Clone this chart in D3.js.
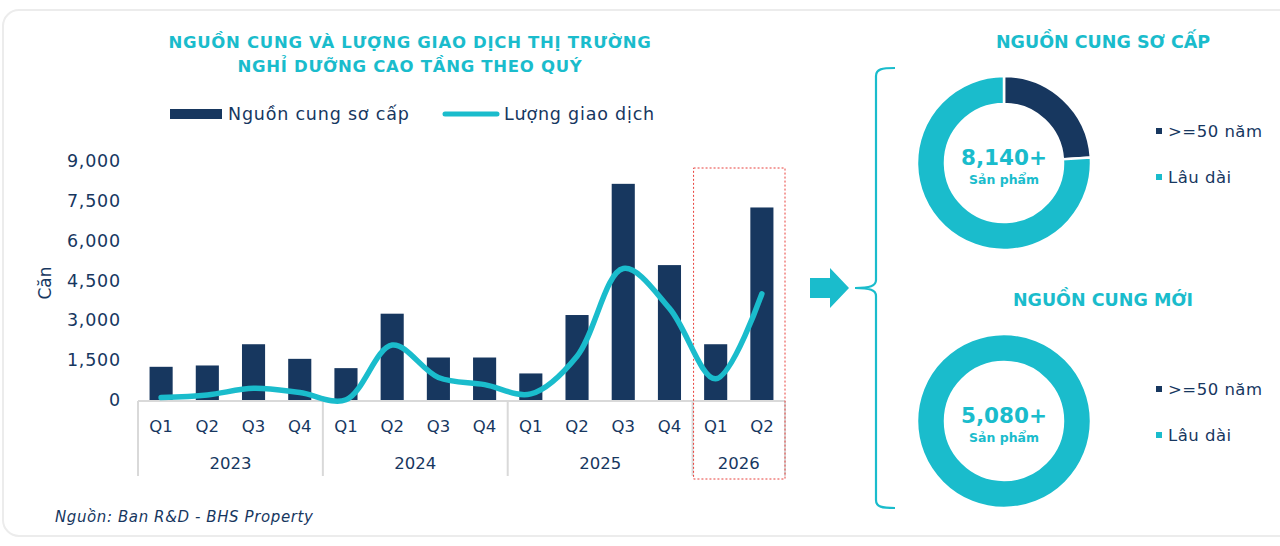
<!DOCTYPE html>
<html>
<head>
<meta charset="utf-8">
<script src="https://cdn.jsdelivr.net/npm/d3@7"></script>
<style>
  body { margin: 0; background: #fff; }
  svg { display: block; font-family: "DejaVu Sans", sans-serif; }
</style>
</head>
<body>
<svg id="chart" width="1280" height="546"></svg>
<script>
// data
const years = ["2023", "2024", "2025", "2026"];
const quarterCount = [4, 4, 4, 2];
const quarters = ["Q1", "Q2", "Q3", "Q4", "Q1", "Q2", "Q3", "Q4", "Q1", "Q2", "Q3", "Q4", "Q1", "Q2"];
const supply = [1250, 1300, 2100, 1550, 1200, 3250, 1600, 1600, 1000, 3200, 8140, 5080, 2100, 7250];
const sales = [90, 190, 440, 280, 10, 2070, 850, 580, 230, 1650, 4950, 3450, 800, 4000];
const yTicks = [0, 1500, 3000, 4500, 6000, 7500, 9000];

const donutLabels = [">=50 năm", "Lâu dài"];
const primaryShare = [24, 76];
const newShare = [0, 100];

const navy = "#17375f";
const cyan = "#1abccc";

const svg = d3.select("#chart");

// card
svg.append("rect")
  .attr("x", 3).attr("y", 10).attr("width", 1300).attr("height", 526)
  .attr("rx", 16)
  .attr("fill", "#fff").attr("stroke", "#ececec").attr("stroke-width", 2);

// titles
const title = svg.append("text")
  .attr("text-anchor", "middle")
  .attr("fill", cyan).attr("font-weight", 700).attr("font-size", 16.5)
  .attr("letter-spacing", 0.7);
title.append("tspan").attr("x", 410).attr("y", 48).text("NGUỒN CUNG VÀ LƯỢNG GIAO DỊCH THỊ TRƯỜNG");
title.append("tspan").attr("x", 410).attr("y", 72).text("NGHỈ DƯỠNG CAO TẦNG THEO QUÝ");

// legend
svg.append("rect").attr("x", 170).attr("y", 109).attr("width", 52).attr("height", 10).attr("fill", navy);
svg.append("text").attr("x", 228).attr("y", 120).attr("font-size", 17.5).attr("letter-spacing", 0.8)
  .attr("fill", navy).text("Nguồn cung sơ cấp");
svg.append("line").attr("x1", 445).attr("x2", 497).attr("y1", 114).attr("y2", 114)
  .attr("stroke", cyan).attr("stroke-width", 5).attr("stroke-linecap", "round");
svg.append("text").attr("x", 504).attr("y", 120).attr("font-size", 17.5).attr("letter-spacing", 0.8)
  .attr("fill", navy).text("Lượng giao dịch");

// scales
const keys = quarters.map((q, i) => i);
const x = d3.scaleBand().domain(keys).range([138, 785]).paddingInner(0.5).paddingOuter(0.25);
const y = d3.scaleLinear().domain([0, 9000]).range([400, 161]);

// y axis
const yAxis = svg.append("g")
  .attr("transform", "translate(121,0)")
  .call(d3.axisLeft(y).tickValues(yTicks).tickSize(0).tickPadding(0).tickFormat(d3.format(",")));
yAxis.select(".domain").remove();
yAxis.selectAll("text").attr("font-size", 17.5).attr("letter-spacing", 0.8).attr("fill", navy)
  .attr("font-family", "DejaVu Sans, sans-serif");

svg.append("text")
  .attr("transform", "translate(51,283) rotate(-90)")
  .attr("text-anchor", "middle").attr("font-size", 17).attr("fill", navy)
  .text("Căn");

// bars
svg.append("g").selectAll("rect").data(supply).join("rect")
  .attr("x", (d, i) => x(i)).attr("width", x.bandwidth())
  .attr("y", d => y(d)).attr("height", d => y(0) - y(d))
  .attr("fill", navy);

// x axis line
svg.append("line").attr("x1", 138).attr("x2", 785).attr("y1", 401).attr("y2", 401)
  .attr("stroke", "#d9d9d9").attr("stroke-width", 2);

// quarter labels
svg.append("g").selectAll("text").data(quarters).join("text")
  .attr("x", (d, i) => x(i) + x.bandwidth() / 2).attr("y", 432)
  .attr("text-anchor", "middle").attr("font-size", 16.5).attr("fill", navy)
  .text(d => d);

// year groups
const step = x.step();
let start = 0;
const groups = years.map((yr, i) => {
  const g = { year: yr, from: start, to: start + quarterCount[i] };
  start += quarterCount[i];
  return g;
});
const x0 = x.range()[0];
const sepIdx = [0].concat(groups.map(g => g.to));
svg.append("g").selectAll("line").data(sepIdx).join("line")
  .attr("x1", d => x0 + d * step).attr("x2", d => x0 + d * step)
  .attr("y1", 401).attr("y2", 476)
  .attr("stroke", "#d9d9d9").attr("stroke-width", 2);
svg.append("g").selectAll("text").data(groups).join("text")
  .attr("x", d => x0 + (d.from + d.to) / 2 * step).attr("y", 469)
  .attr("text-anchor", "middle").attr("font-size", 16.5).attr("fill", navy)
  .text(d => d.year);

// forecast box (2026)
const last = groups[groups.length - 1];
svg.append("rect")
  .attr("x", x0 + last.from * step + 1).attr("y", 168)
  .attr("width", (last.to - last.from) * step - 1).attr("height", 311)
  .attr("fill", "none").attr("stroke", "#e8413c").attr("stroke-width", 1)
  .attr("stroke-dasharray", "2,2");

// sales line
const line = d3.line()
  .x((d, i) => x(i) + x.bandwidth() / 2)
  .y(d => y(d))
  .curve(d3.curveCatmullRom.alpha(0.5));
svg.append("path").datum(sales)
  .attr("d", line)
  .attr("fill", "none").attr("stroke", cyan).attr("stroke-width", 5.5)
  .attr("stroke-linecap", "round");

// source
svg.append("text").attr("x", 55).attr("y", 522)
  .attr("font-size", 15).attr("letter-spacing", 0.6).attr("font-style", "italic").attr("fill", navy)
  .text("Nguồn: Ban R&D - BHS Property");

// arrow
svg.append("path")
  .attr("d", "M810,278 L830,278 L830,268 L849,288 L830,308 L830,298 L810,298 Z")
  .attr("fill", cyan);

// brace
svg.append("path")
  .attr("d", "M895,68 C882,68 876,69 876,76 L876,280 C876,286 870,288 855,288 C870,288 876,290 876,296 L876,500 C876,507 882,508 895,508")
  .attr("fill", "none").attr("stroke", cyan).attr("stroke-width", 2.2);

// donuts
const pie = d3.pie().sort(null).value(d => d);
const arc = d3.arc().innerRadius(59).outerRadius(87);
const donutColors = [navy, cyan];

function donut(cx, cy, share, heading, total) {
  svg.append("text").attr("x", 1103).attr("y", cy - 115)
    .attr("text-anchor", "middle").attr("font-size", 17.5).attr("font-weight", 700)
    .attr("fill", cyan).text(heading);
  const g = svg.append("g").attr("transform", `translate(${cx},${cy})`);
  g.selectAll("path").data(pie(share)).join("path")
    .attr("d", arc).attr("fill", (d, i) => donutColors[i])
    .attr("stroke", "#fff").attr("stroke-width", 2.5);
  g.append("text").attr("y", 2).attr("text-anchor", "middle")
    .attr("font-size", 21.5).attr("font-weight", 700).attr("fill", cyan).text(total);
  g.append("text").attr("y", 21).attr("text-anchor", "middle")
    .attr("font-size", 12.5).attr("font-weight", 700).attr("fill", cyan).text("Sản phẩm");
  const lg = svg.append("g").attr("transform", `translate(1156,${cy - 31})`);
  donutLabels.forEach((lab, i) => {
    lg.append("rect").attr("x", 0).attr("y", i * 46 - 4).attr("width", 6).attr("height", 6)
      .attr("fill", donutColors[i]);
    lg.append("text").attr("x", 12).attr("y", i * 46 + 5).attr("font-size", 16.5)
      .attr("letter-spacing", 0.5).attr("fill", navy).text(lab);
  });
}
donut(1004, 163, primaryShare, "NGUỒN CUNG SƠ CẤP", "8,140+");
donut(1004, 421, newShare, "NGUỒN CUNG MỚI", "5,080+");
</script>
</body>
</html>
